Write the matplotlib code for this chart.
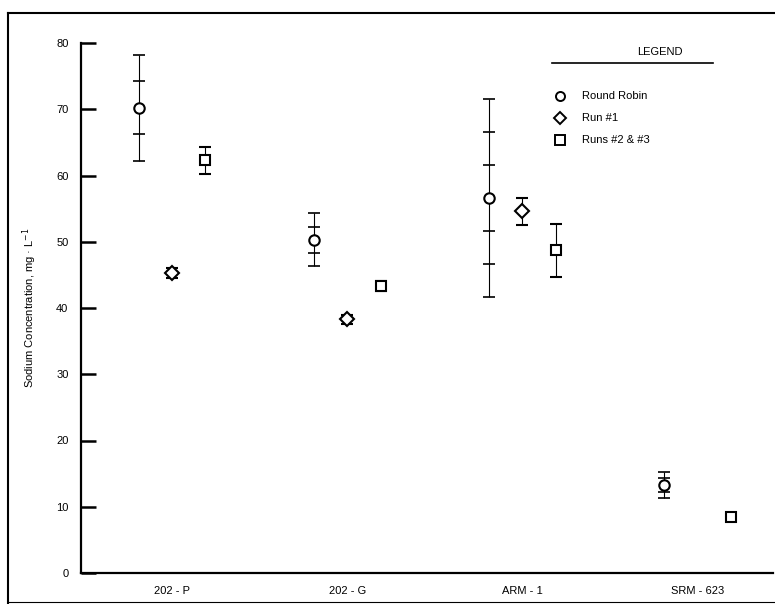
import numpy as np
import matplotlib
matplotlib.use("Agg")
import matplotlib.pyplot as plt
from matplotlib.lines import Line2D

plt.rcParams['font.family'] = ['Liberation Sans', 'DejaVu Sans']

# data
samples = ["202 - P", "202 - G", "ARM - 1", "SRM - 623"]
series = ["Round Robin", "Run #1", "Runs #2 & #3"]

rr_mean = [70.2, 50.3, 56.6, 13.3]
rr_sd = [4.0, 2.0, 5.0, 1.0]
rr_nsd = [2, 2, 3, 2]

run1_mean = [45.3, 38.3, 54.6, np.nan]
run1_err = [0.8, 0.7, 2.0, np.nan]

run23_mean = [62.3, 43.3, 48.75, 8.4]
run23_err = [2.0, 0.8, 4.0, 0.4]

yticks = [0, 10, 20, 30, 40, 50, 60, 70, 80]

fig = plt.figure(figsize=(7.75, 6.04), dpi=100)
ax = fig.add_axes([81 / 775, 31 / 604, 692 / 775, 530 / 604])

x = np.arange(len(samples))
off = 0.19

# round robin: bar out to k*sd with small ticks at each sd step
rr_x = x - off
for xi, m, s, k in zip(rr_x, rr_mean, rr_sd, rr_nsd):
    ax.errorbar(xi, m, yerr=k * s, fmt='none', ecolor='black', elinewidth=0.8,
                capsize=4, capthick=1.2)
    lv = [m + j * s for j in range(1, k)] + [m - j * s for j in range(1, k)]
    ax.plot([xi] * len(lv), lv, ls='none', marker='_', ms=8, mew=1.2, color='black')
ax.plot(rr_x, rr_mean, ls='none', marker='o', ms=7.5, mfc='white', mec='black', mew=1.5)

ax.errorbar(x, run1_mean, yerr=run1_err, fmt='D', ms=7, mfc='white', mec='black', mew=1.5,
            ecolor='black', elinewidth=0.8, capsize=4, capthick=1.2)
ax.errorbar(x + off, run23_mean, yerr=run23_err, fmt='s', ms=7, mfc='white', mec='black',
            mew=1.5, ecolor='black', elinewidth=0.8, capsize=4, capthick=1.2)

ax.set_xlim(-0.52, 3.43)
ax.set_ylim(0, 80)
ax.set_yticks(yticks)
ax.set_yticklabels([str(v) for v in yticks], fontsize=8)
ax.tick_params(axis='y', direction='in', length=11, width=1.8, pad=9)
ax.set_xticks(x)
ax.set_xticklabels(samples, fontsize=8)
ax.tick_params(axis='x', length=0, pad=9)
for side in ['top', 'right']:
    ax.spines[side].set_visible(False)
for side in ['left', 'bottom']:
    ax.spines[side].set_linewidth(1.6)
ax.set_ylabel("Sodium Concentration, mg · L$^{-1}$", fontsize=8, labelpad=12)

# hand-drawn legend block
ax.text(0.837, 0.983, "LEGEND", transform=ax.transAxes, ha='center', va='center', fontsize=8)
ax.add_line(Line2D([0.681, 0.913], [0.963, 0.963], transform=ax.transAxes, color='black',
                   lw=1.2, clip_on=False))
for mk, lab, yy in zip(['o', 'D', 's'], series, [0.900, 0.858, 0.817]):
    ax.plot([0.692], [yy], transform=ax.transAxes, marker=mk, ms=6.5, mfc='white',
            mec='black', mew=1.4, ls='none', clip_on=False)
    ax.text(0.724, yy, lab, transform=ax.transAxes, ha='left', va='center', fontsize=8)

# scanned frame
fig.add_artist(Line2D([8 / 775, 1], [1 - 13 / 604, 1 - 13 / 604], transform=fig.transFigure,
                      color='black', lw=1.5))
fig.add_artist(Line2D([8 / 775, 8 / 775], [0, 1 - 13 / 604], transform=fig.transFigure,
                      color='black', lw=1.5))
fig.add_artist(Line2D([8 / 775, 1], [2 / 604, 2 / 604], transform=fig.transFigure,
                      color='black', lw=0.8))

fig.savefig("out.png", dpi=100)
